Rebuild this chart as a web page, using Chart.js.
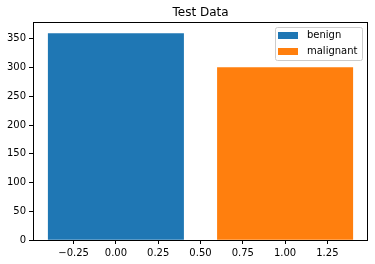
<!DOCTYPE html>
<html>
<head>
<meta charset="utf-8">
<script src="https://cdn.jsdelivr.net/npm/chart.js@4/dist/chart.umd.min.js"></script>
<style>
  body { margin: 0; background: #fff; }
  canvas { display: block; }
</style>
</head>
<body>
<canvas id="chart" width="375" height="264"></canvas>
<script>
// Data
const labels = ['benign', 'malignant'];
const positions = [0, 1];
const counts = [359, 300];
const colors = ['#1f77b4', '#ff7f0e'];
const barWidth = 0.8; // in x units, like plt.bar default
const xTicks = [-0.25, 0, 0.25, 0.5, 0.75, 1, 1.25];
const yTicks = [0, 50, 100, 150, 200, 250, 300, 350];

const FONT = "'DejaVu Sans', sans-serif";

// bar width from the x scale (0.8 data units) once the layout is known
const barSize = {
    id: 'barSize',
    afterLayout(chart) {
        const x = chart.scales.x;
        const px = Math.abs(x.getPixelForValue(barWidth) - x.getPixelForValue(0));
        chart.data.datasets.forEach(d => { d.barThickness = px; });
    }
};

// box around the plot area (matplotlib style spines)
const frame = {
    id: 'frame',
    afterDraw(chart) {
        const a = chart.chartArea;
        const ctx = chart.ctx;
        ctx.save();
        ctx.strokeStyle = '#000';
        ctx.lineWidth = 1;
        ctx.strokeRect(Math.round(a.left) + 0.5, Math.round(a.top) + 0.5,
            Math.round(a.right - a.left) - 1, Math.round(a.bottom - a.top));
        ctx.restore();
    }
};

// legend drawn inside the axes, upper right
const innerLegend = {
    id: 'innerLegend',
    afterDraw(chart) {
        const a = chart.chartArea;
        const ctx = chart.ctx;
        ctx.save();
        ctx.font = '10px ' + FONT;
        const textW = Math.max(...chart.data.datasets.map(d => ctx.measureText(d.label).width));
        const w = Math.round(31 + textW + 6);
        const h = 33;
        const x = Math.round(a.right - 6 - w);
        const y = Math.round(a.top + 5);
        ctx.beginPath();
        ctx.roundRect(x + 0.5, y + 0.5, w, h, 2);
        ctx.fillStyle = 'rgba(255,255,255,0.8)';
        ctx.fill();
        ctx.strokeStyle = '#cccccc';
        ctx.lineWidth = 1;
        ctx.stroke();
        chart.data.datasets.forEach((d, i) => {
            const cy = y + 8.5 + i * 16.3;
            ctx.fillStyle = d.backgroundColor;
            ctx.fillRect(x + 3, Math.round(cy - 3.5), 20, 7);
            ctx.fillStyle = '#000';
            ctx.textBaseline = 'middle';
            ctx.fillText(d.label, x + 32, cy);
        });
        ctx.restore();
    }
};

new Chart(document.getElementById('chart'), {
    type: 'bar',
    data: {
        datasets: labels.map((label, i) => ({
            label: label,
            data: [{ x: positions[i], y: counts[i] }],
            backgroundColor: colors[i],
            borderWidth: 0,
            grouped: false
        }))
    },
    options: {
        responsive: false,
        animation: false,
        layout: { padding: { left: 0, right: 7, top: 0, bottom: 0 } },
        plugins: {
            legend: { display: false },
            tooltip: { enabled: false },
            title: {
                display: true,
                text: 'Test Data',
                fullSize: false,
                color: '#000',
                font: { family: FONT, size: 12, weight: 'normal' },
                padding: { top: 6, bottom: 2 }
            }
        },
        scales: {
            x: {
                type: 'linear',
                offset: false,
                min: -0.49,
                max: 1.49,
                afterBuildTicks: axis => { axis.ticks = xTicks.map(v => ({ value: v })); },
                afterFit: axis => { axis.height = 24; },
                grid: { offset: false, drawOnChartArea: false, drawTicks: true, tickLength: 4, color: '#000' },
                border: { display: false },
                ticks: {
                    autoSkip: false,
                    maxRotation: 0,
                    padding: 3,
                    color: '#000',
                    font: { family: FONT, size: 10 },
                    callback: v => v.toFixed(2).replace('-', '\u2212')
                }
            },
            y: {
                min: 0,
                max: 378.5,
                afterBuildTicks: axis => { axis.ticks = yTicks.map(v => ({ value: v })); },
                afterFit: axis => { axis.width = 33; },
                grid: { drawOnChartArea: false, drawTicks: true, tickLength: 4, color: '#000' },
                border: { display: false },
                ticks: {
                    padding: 3,
                    color: '#000',
                    font: { family: FONT, size: 10 },
                    callback: v => String(v)
                }
            }
        }
    },
    plugins: [barSize, frame, innerLegend]
});
</script>
</body>
</html>
